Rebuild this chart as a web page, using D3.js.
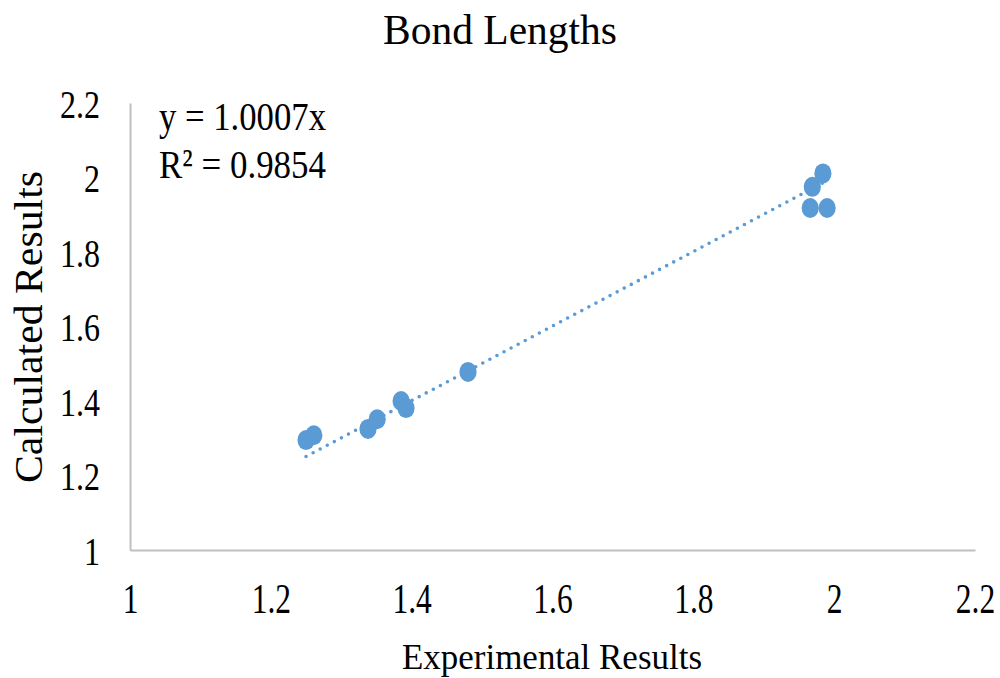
<!DOCTYPE html>
<html>
<head>
<meta charset="utf-8">
<script src="https://cdn.jsdelivr.net/npm/d3@7"></script>
<style>
  body { margin: 0; background: #fff; }
  text { font-family: "Liberation Serif", "Times New Roman", serif; fill: #000; }
</style>
</head>
<body>
<svg id="chart" width="1000" height="678"></svg>
<script>
var experimental = [1.25, 1.261, 1.338, 1.351, 1.385, 1.392, 1.48, 1.984, 1.969, 1.966, 1.99];
var calculated = [1.295, 1.308, 1.325, 1.351, 1.40, 1.381, 1.478, 2.011, 1.975, 1.918, 1.918];
var ticks = [1, 1.2, 1.4, 1.6, 1.8, 2, 2.2];
var slope = 1.0007, rSquared = 0.9854;
var color = "#5b9bd5", axisColor = "#bfbfbf";

var svg = d3.select("#chart");
var x = d3.scaleLinear().domain([1, 2.2]).range([130, 975]);
var y = d3.scaleLinear().domain([1, 2.2]).range([550, 103]);

// squeeze text horizontally, the original is rendered narrow
function squeeze(sel, f) {
    sel.each(function () {
        var w = this.getComputedTextLength();
        d3.select(this).attr("textLength", w * f).attr("lengthAdjust", "spacingAndGlyphs");
    });
}

var yAxis = svg.append("g")
    .attr("transform", "translate(130,0)")
    .call(d3.axisLeft(y).tickValues(ticks).tickSize(0).tickPadding(30)
        .tickFormat(function (d) { return +d.toFixed(1) + ""; }));
yAxis.select(".domain").attr("stroke", axisColor).attr("stroke-width", 2);
yAxis.selectAll("text").attr("font-size", 40).attr("dy", "0.35em")
    .style("font-family", "Liberation Serif").call(squeeze, 0.8);

var xAxis = svg.append("g")
    .attr("transform", "translate(0,550)")
    .call(d3.axisBottom(x).tickValues(ticks).tickSize(0)
        .tickFormat(function (d) { return +d.toFixed(1) + ""; }));
xAxis.select(".domain").attr("stroke", axisColor).attr("stroke-width", 2);
xAxis.selectAll("text").attr("font-size", 42).attr("y", 63).attr("dy", 0)
    .style("font-family", "Liberation Serif").call(squeeze, 0.75);

// trendline y = slope * x over the data range
var xs = d3.extent(experimental);
svg.append("line")
    .attr("x1", x(xs[0])).attr("y1", y(slope * xs[0]))
    .attr("x2", x(xs[1])).attr("y2", y(slope * xs[1]))
    .attr("stroke", color).attr("stroke-width", 3.6)
    .attr("stroke-linecap", "round").attr("stroke-dasharray", "0,8");

svg.append("g").selectAll("ellipse")
    .data(d3.range(experimental.length)).enter()
    .append("ellipse")
    .attr("cx", function (i) { return x(experimental[i]); })
    .attr("cy", function (i) { return y(calculated[i]); })
    .attr("rx", 8.6).attr("ry", 10)
    .attr("fill", color);

svg.append("text").attr("x", 500).attr("y", 44).attr("text-anchor", "middle")
    .attr("font-size", 43).attr("textLength", 234).attr("lengthAdjust", "spacingAndGlyphs")
    .text("Bond Lengths");

svg.append("text").attr("x", 552).attr("y", 669).attr("text-anchor", "middle")
    .attr("font-size", 36).attr("textLength", 300).attr("lengthAdjust", "spacingAndGlyphs")
    .text("Experimental Results");

svg.append("text").attr("transform", "translate(42,327) rotate(-90)").attr("text-anchor", "middle")
    .attr("font-size", 40).attr("textLength", 312).attr("lengthAdjust", "spacingAndGlyphs")
    .text("Calculated Results");

svg.append("text").attr("x", 159).attr("y", 130)
    .attr("font-size", 41).attr("textLength", 167).attr("lengthAdjust", "spacingAndGlyphs")
    .text("y = " + slope.toFixed(4) + "x");
svg.append("text").attr("x", 159).attr("y", 178)
    .attr("font-size", 41).attr("textLength", 167).attr("lengthAdjust", "spacingAndGlyphs")
    .text("R² = " + rSquared.toFixed(4));
</script>
</body>
</html>
